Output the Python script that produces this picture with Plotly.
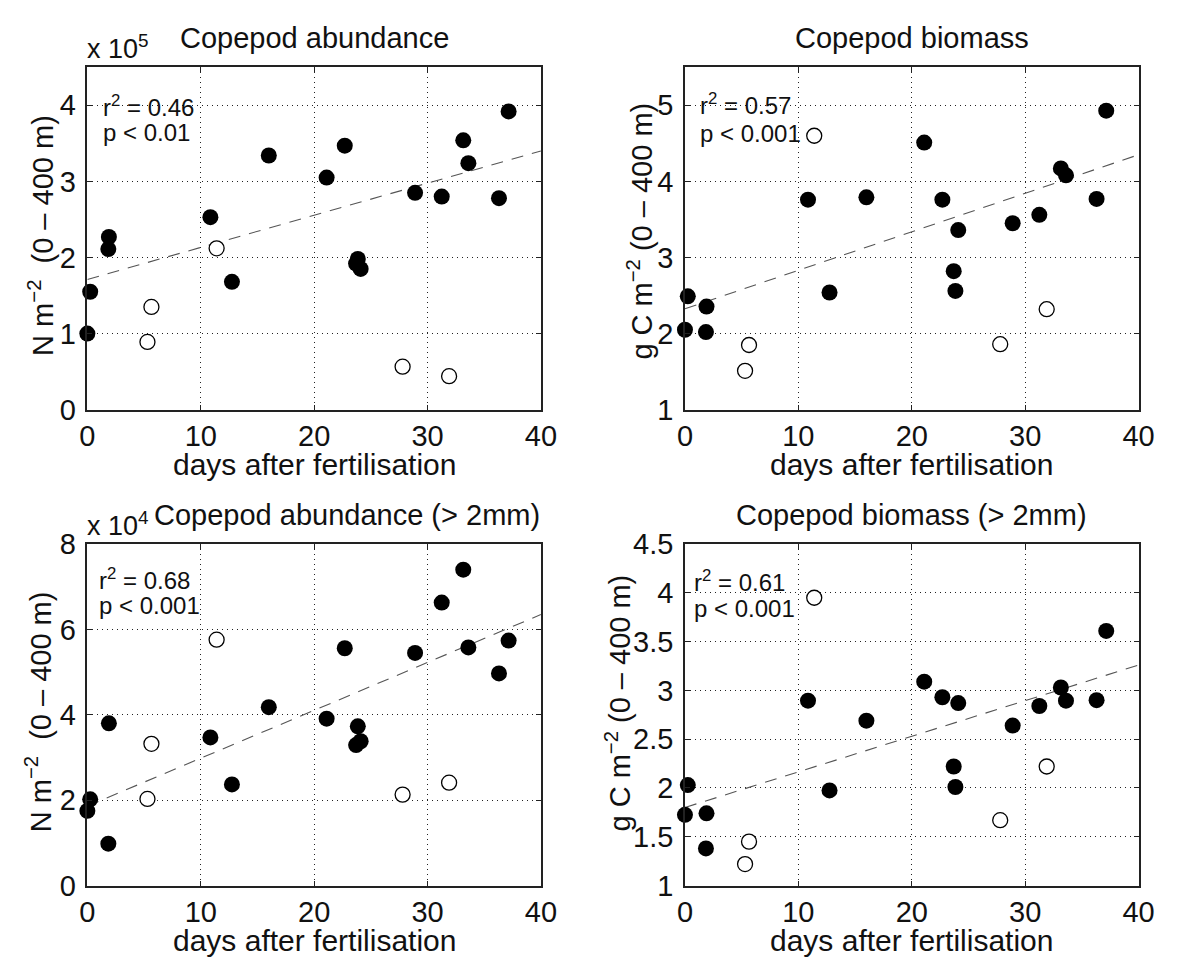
import plotly.graph_objects as go

# ---------------- data ----------------
days_filled = [0.0, 0.25, 1.85, 1.9, 10.85, 12.75, 16.0, 21.1, 22.7, 23.7, 23.85, 24.1,
               28.9, 31.25, 33.15, 33.6, 36.3, 37.15]
days_open = [5.3, 5.65, 11.4, 27.8, 31.9]

# Copepod abundance (x 1e5 N m-2)
abund_filled = [1.00, 1.55, 2.11, 2.27, 2.53, 1.68, 3.34, 3.05, 3.47, 1.92, 1.98, 1.85,
                2.85, 2.80, 3.54, 3.24, 2.78, 3.92]
abund_open = [0.89, 1.35, 2.12, 0.565, 0.44]

# Copepod biomass (g C m-2)
biom_filled = [2.05, 2.49, 2.02, 2.355, 3.76, 2.54, 3.79, 4.51, 3.76, 2.82, 2.56, 3.36,
               3.45, 3.56, 4.17, 4.08, 3.77, 4.93]
biom_open = [1.51, 1.85, 4.60, 1.86, 2.32]

# Copepod abundance > 2mm (x 1e4 N m-2)
abund2_filled = [1.75, 2.02, 0.98, 3.80, 3.47, 2.37, 4.18, 3.91, 5.56, 3.29, 3.73, 3.38,
                 5.45, 6.63, 7.40, 5.58, 4.97, 5.74]
abund2_open = [2.03, 3.32, 5.76, 2.13, 2.41]

# Copepod biomass > 2mm (g C m-2)
biom2_filled = [1.725, 2.03, 1.38, 1.74, 2.895, 1.975, 2.69, 3.09, 2.93, 2.22, 2.01, 2.87,
                2.64, 2.84, 3.03, 2.895, 2.90, 3.61]
biom2_open = [1.22, 1.45, 3.95, 1.67, 2.22]

# regression lines (value at day 0 and day 40)
trend_days = [0, 40]
trend_abund = [1.71, 3.40]
trend_biom = [2.325, 4.35]
trend_abund2 = [1.86, 6.35]
trend_biom2 = [1.80, 3.26]

titles = ["Copepod abundance", "Copepod biomass",
          "Copepod abundance (> 2mm)", "Copepod biomass (> 2mm)"]
stats = [("0.46", "0.01"), ("0.57", "0.001"), ("0.68", "0.001"), ("0.61", "0.001")]
ylabels = ["N m<sup>−2</sup>  (0 – 400 m)", "g C m<sup>−2</sup> (0 – 400 m)",
           "N m<sup>−2</sup>  (0 – 400 m)", "g C m<sup>−2</sup> (0 – 400 m)"]
xlabel = "days after fertilisation"
yranges = [[0, 4.5], [1, 5.5], [0, 8], [1, 4.5]]
ydticks = [1, 1, 2, 0.5]
exponents = ["5", None, "4", None]

# ---------------- layout helpers ----------------
W, H = 1181, 976
FONT = "Liberation Sans, Arial, Helvetica, sans-serif"
TXT = "#111111"


def fx(px):
    return px / W


def fy(py):
    return 1 - py / H


# axes boxes in pixels: (left, right, top, bottom)
boxes = [(81, 544, 53, 407), (691, 1154, 53, 407),
         (81, 544, 546, 899), (691, 1154, 546, 899)]
ylabel_x = [33, 645, 31, 623]
ylabel_dy = [-3, -8, -3, -12]
title_x = [312.5, 922.5, 346, 922.5]
stat_dx = [14, 13, 10, 7]
r2_dy = [40, 38, 36, 38]
p_dy = [67, 68, 63, 67]

panels = [
    (abund_filled, abund_open, trend_abund),
    (biom_filled, biom_open, trend_biom),
    (abund2_filled, abund2_open, trend_abund2),
    (biom2_filled, biom2_open, trend_biom2),
]

fig = go.Figure()
annotations = []

for i, (filled, opened, trend) in enumerate(panels):
    xa = "x" if i == 0 else f"x{i+1}"
    ya = "y" if i == 0 else f"y{i+1}"
    fig.add_trace(go.Scatter(x=trend_days, y=trend, mode="lines", xaxis=xa, yaxis=ya,
                             line=dict(color="#555555", width=1.1, dash="12px,9px"),
                             showlegend=False, hoverinfo="skip"))
    fig.add_trace(go.Scatter(x=days_open, y=opened, mode="markers", xaxis=xa, yaxis=ya,
                             marker=dict(size=15, color="white",
                                         line=dict(color="black", width=1.3)),
                             cliponaxis=False, showlegend=False))
    fig.add_trace(go.Scatter(x=days_filled, y=filled, mode="markers", xaxis=xa, yaxis=ya,
                             marker=dict(size=16, color="black",
                                         line=dict(color="black", width=0)),
                             cliponaxis=False, showlegend=False))

    l, r, t, b = boxes[i]
    axis_common = dict(showline=True, linecolor="#222222", linewidth=1.5, mirror="ticks",
                       ticks="inside", ticklen=5, tickcolor="#222222", tickwidth=1,
                       showgrid=True, gridcolor="#222222", gridwidth=1, griddash="1px,4px",
                       zeroline=False, tickfont=dict(family=FONT, size=29, color=TXT))
    xkey = "xaxis" if i == 0 else f"xaxis{i+1}"
    ykey = "yaxis" if i == 0 else f"yaxis{i+1}"
    fig.update_layout({
        xkey: dict(domain=[fx(l), fx(r)], range=[0, 40], tick0=0, dtick=10,
                   anchor=ya, ticklabelstandoff=0, **axis_common),
        ykey: dict(domain=[fy(b), fy(t)], range=yranges[i], tick0=yranges[i][0],
                   dtick=ydticks[i], anchor=xa, ticklabelstandoff=4, **axis_common),
    })

    cx = (l + r) / 2
    annotations.append(dict(x=fx(title_x[i]), y=fy(t - 30), xref="paper", yref="paper",
                            text=titles[i], showarrow=False, xanchor="center",
                            yanchor="middle",
                            font=dict(family=FONT, size=29, color=TXT)))
    if exponents[i]:
        annotations.append(dict(x=fx(l - 2), y=fy(t - 1), xref="paper", yref="paper",
                                text=f"x 10<sup>{exponents[i]}</sup>", showarrow=False,
                                xanchor="left", yanchor="bottom",
                                font=dict(family=FONT, size=27, color=TXT)))
    annotations.append(dict(x=fx(cx), y=fy(b + 57), xref="paper", yref="paper",
                            text=xlabel, showarrow=False, xanchor="center", yanchor="middle",
                            font=dict(family=FONT, size=30, color=TXT)))
    annotations.append(dict(x=fx(ylabel_x[i]), y=fy((t + b) / 2 + ylabel_dy[i]),
                            xref="paper", yref="paper",
                            text=ylabels[i], showarrow=False, textangle=-90,
                            xanchor="center", yanchor="middle",
                            font=dict(family=FONT, size=29, color=TXT)))
    r2, p = stats[i]
    annotations.append(dict(x=fx(l + stat_dx[i]), y=fy(t + r2_dy[i]), xref="paper",
                            yref="paper", text=f"r<sup>2</sup> = {r2}", showarrow=False,
                            xanchor="left", yanchor="middle",
                            font=dict(family=FONT, size=24, color=TXT)))
    annotations.append(dict(x=fx(l + stat_dx[i]), y=fy(t + p_dy[i]), xref="paper",
                            yref="paper", text=f"p &lt; {p}", showarrow=False,
                            xanchor="left", yanchor="middle",
                            font=dict(family=FONT, size=24, color=TXT)))

fig.update_layout(width=W, height=H, margin=dict(l=0, r=0, t=0, b=0),
                  paper_bgcolor="white", plot_bgcolor="white",
                  annotations=annotations, showlegend=False)

fig.write_html("out.html")
